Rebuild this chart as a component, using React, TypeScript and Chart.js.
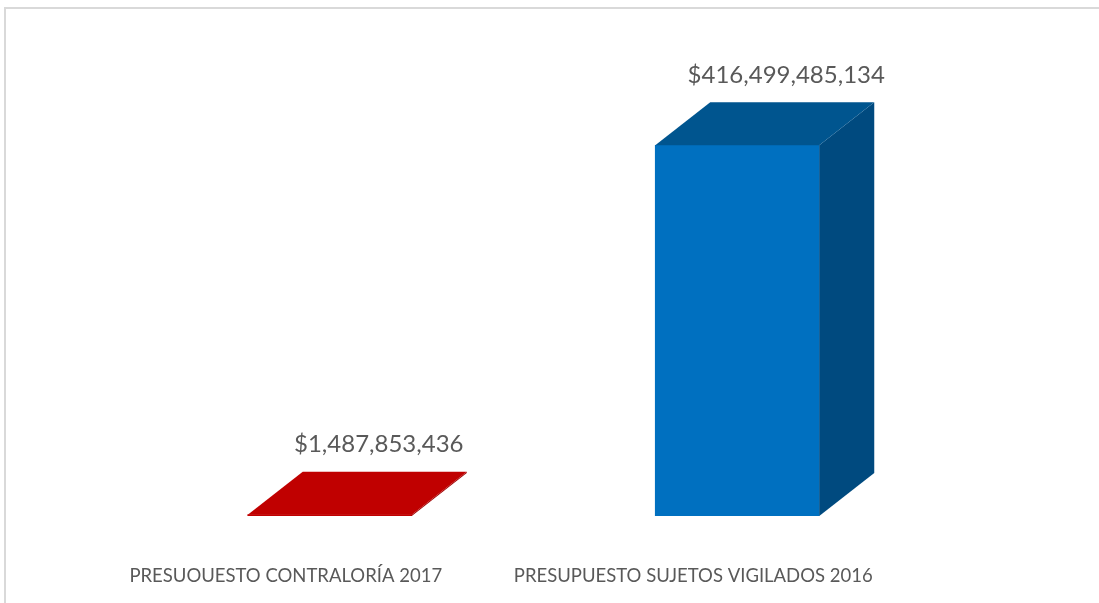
import React, { useEffect, useRef } from "react";
import { Chart, registerables } from "chart.js";

Chart.register(...registerables);

const categories = ["PRESUOUESTO CONTRALORÍA 2017", "PRESUPUESTO SUJETOS VIGILADOS 2016"];
const values = [1487853436, 416499485134];
const valueLabels = ["$1,487,853,436", "$416,499,485,134"];
const frontColors = ["#C00000", "#0070C0"];
const topColors = ["#C00000", "#00558F"];
const sideColors = ["#A00000", "#004A7F"];

const DX = 55;
const DY = -43;

const bar3dPlugin = {
  id: "bar3d",
  beforeDraw(chart: any) {
    const ctx = chart.ctx;
    ctx.save();
    ctx.fillStyle = "#ffffff";
    ctx.fillRect(0, 0, chart.width, chart.height);
    ctx.strokeStyle = "#d9d9d9";
    ctx.lineWidth = 2;
    ctx.beginPath();
    ctx.moveTo(5, chart.height + 5);
    ctx.lineTo(5, 8);
    ctx.lineTo(chart.width + 5, 8);
    ctx.stroke();
    ctx.restore();
  },
  afterDatasetsDraw(chart: any) {
    const ctx = chart.ctx;
    const meta = chart.getDatasetMeta(0);
    ctx.save();
    meta.data.forEach((el: any, i: number) => {
      const p = el.getProps(["x", "y", "base", "width"], true);
      const l = p.x - p.width / 2;
      const r = p.x + p.width / 2;
      const t = p.y;
      const b = p.base;
      ctx.fillStyle = sideColors[i];
      ctx.beginPath();
      ctx.moveTo(r, t);
      ctx.lineTo(r + DX, t + DY);
      ctx.lineTo(r + DX, b + DY);
      ctx.lineTo(r, b);
      ctx.closePath();
      ctx.fill();
      ctx.fillStyle = topColors[i];
      ctx.beginPath();
      ctx.moveTo(l, t);
      ctx.lineTo(r, t);
      ctx.lineTo(r + DX, t + DY);
      ctx.lineTo(l + DX, t + DY);
      ctx.closePath();
      ctx.fill();
      ctx.fillStyle = "#595959";
      ctx.font = "24px Lato";
      ctx.textAlign = "center";
      ctx.textBaseline = "middle";
      ctx.fillText(valueLabels[i], p.x + 49, t + DY - 27);
    });
    ctx.restore();
  },
};

export default function App() {
  const ref = useRef<HTMLCanvasElement>(null);
  useEffect(() => {
    document.body.style.margin = "0";
    const chart = new Chart(ref.current!, {
      type: "bar",
      data: {
        labels: categories,
        datasets: [
          {
            data: values,
            backgroundColor: frontColors,
            barThickness: 164,
            borderWidth: 0,
          },
        ],
      },
      options: {
        animation: false,
        responsive: false,
        layout: { padding: { top: 71, left: 126, right: 158, bottom: 0 } },
        plugins: { legend: { display: false }, tooltip: { enabled: false } },
        scales: {
          y: { display: false, min: 0, max: 500000000000 },
          x: {
            grid: { display: false },
            border: { display: false },
            afterFit: (scale: any) => {
              scale.height = 87;
            },
            ticks: {
              color: "#595959",
              font: { family: "Lato", size: 18.5 },
              padding: 41,
              labelOffset: -44,
              maxRotation: 0,
              autoSkip: false,
            },
          },
        },
      },
      plugins: [bar3dPlugin],
    });
    return () => chart.destroy();
  }, []);
  return (
    <div style={{ width: 1099, height: 603 }}>
      <canvas ref={ref} width={1099} height={603} style={{ display: "block" }} />
    </div>
  );
}
